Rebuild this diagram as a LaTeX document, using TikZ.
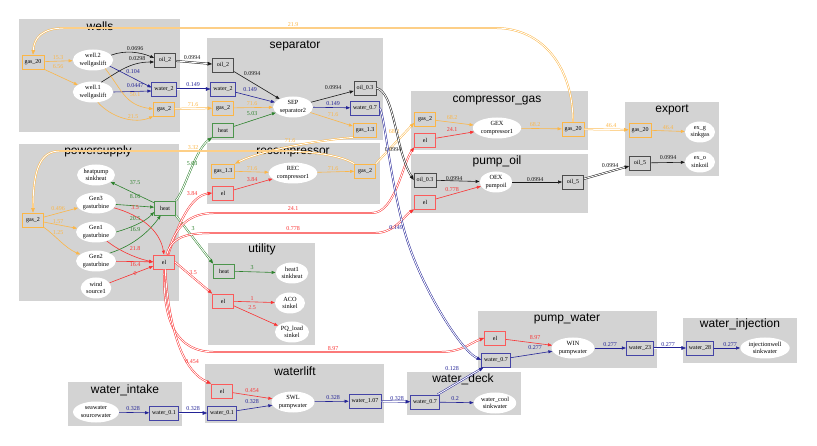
\documentclass[tikz,border=0pt]{standalone}
\usepackage{fontspec}
\setmainfont{Liberation Serif}
\setsansfont{Liberation Sans}
\usetikzlibrary{arrows.meta,shapes.geometric}
\definecolor{clgray}{RGB}{211,211,211}
\definecolor{orC}{RGB}{252,182,70}
\definecolor{rdC}{RGB}{250,50,50}
\definecolor{gnC}{RGB}{45,130,45}
\definecolor{blC}{RGB}{35,35,150}
\definecolor{bkC}{RGB}{25,25,25}
\tikzset{
  clbox/.style={fill=clgray,draw=none},
  ttl/.style={font=\sffamily\fontsize{12}{12}\selectfont,inner sep=0pt,anchor=base},
  bx/.style={draw,rectangle,minimum width=21pt,minimum height=14pt,inner xsep=2.5pt,inner ysep=1pt,font=\fontsize{6}{7}\selectfont,line width=0.8pt},
  obx/.style={bx,draw=orC},
  rbx/.style={bx,draw=rdC!80},
  gbx/.style={bx,draw=gnC!85},
  bbx/.style={bx,draw=blC!85},
  kbx/.style={bx,draw=black!70},
  ell/.style={ellipse,fill=white,draw=none,minimum width=30pt,minimum height=21pt,inner xsep=1pt,inner ysep=0.5pt,align=center,font=\fontsize{6.3}{7.5}\selectfont},
  ed/.style={-{Triangle[length=4pt,width=3pt]},line width=0.6pt},
  dbl/.style={-{Triangle[length=4.5pt,width=3.6pt]},line width=0.5pt,double=white,double distance=0.9pt},
  lb/.style={font=\fontsize{6}{7}\selectfont,inner sep=0pt},
}
\newcommand\elab[4]{\node[lb,text=#1] (#2) at (#3) {#4};}
\begin{document}
\begin{tikzpicture}[x=1pt,y=1pt]
\useasboundingbox (0,0) rectangle (817,-446);
% clusters
\fill[clbox] (19,-19) rectangle (180,-132);
\fill[clbox] (207,-38) rectangle (383,-140);
\fill[clbox] (19,-144) rectangle (179,-301);
\fill[clbox] (207,-143) rectangle (380,-204);
\fill[clbox] (208,-243) rectangle (315,-345);
\fill[clbox] (411,-91) rectangle (588,-150);
\fill[clbox] (411,-154) rectangle (588,-213);
\fill[clbox] (625,-102) rectangle (719,-176);
\fill[clbox] (478,-311) rectangle (657,-368);
\fill[clbox] (683,-318) rectangle (797,-363);
\fill[clbox] (407,-372) rectangle (521,-415);
\fill[clbox] (68,-382) rectangle (182,-426);
\fill[clbox] (205,-364) rectangle (384,-423);
% titles
\node[ttl] (tw) at (100,-30.5) {wells};
\node[ttl] (ts) at (295,-49) {separator};
\node[ttl] (tp) at (98,-155) {powersupply};
\node[ttl] (tr) at (293,-155) {recompressor};
\node[ttl] (tu) at (262,-253) {utility};
\node[ttl] (tc) at (497,-102.5) {compressor\_gas};
\node[ttl] (tpo) at (497,-164.5) {pump\_oil};
\node[ttl] (te) at (672,-113) {export};
\node[ttl] (tpw) at (567,-322) {pump\_water};
\node[ttl] (twi) at (740,-328) {water\_injection};
\node[ttl] (twd) at (463,-383) {water\_deck};
\node[ttl] (twin) at (125,-393) {water\_intake};
\node[ttl] (twl) at (295,-376) {waterlift};
% wells
\node[obx] (wG20) at (33,-62) {gas\_20};
\node[ell] (wW2) at (93,-60) {well.2\\wellgaslift};
\node[ell] (wW1) at (93,-92) {well.1\\wellgaslift};
\node[kbx] (wO2) at (165,-60) {oil\_2};
\node[bbx] (wWa2) at (164,-89) {water\_2};
\node[obx] (wG2) at (164,-109) {gas\_2};
% separator
\node[kbx] (sO2) at (223,-65) {oil\_2};
\node[bbx] (sWa2) at (223,-89) {water\_2};
\node[obx] (sG2) at (223,-108) {gas\_2};
\node[gbx] (sHeat) at (223,-130) {heat};
\node[ell] (sSEP) at (293,-107) {SEP\\separator2};
\node[kbx] (sO03) at (365,-88) {oil\_0.3};
\node[bbx] (sWa07) at (365,-108) {water\_0.7};
\node[obx] (sG13) at (365,-130) {gas\_1.3};
% powersupply
\node[obx] (pG2) at (33,-220) {gas\_2};
\node[ell] (pHP) at (96,-175) {heatpump\\sinkheat};
\node[ell] (pGen3) at (96,-203) {Gen3\\gasturbine};
\node[ell] (pGen1) at (96,-232) {Gen1\\gasturbine};
\node[ell] (pGen2) at (96,-261) {Gen2\\gasturbine};
\node[ell] (pWind) at (96,-288) {wind\\source1};
\node[gbx] (pHeat) at (165,-208) {heat};
\node[rbx] (pEl) at (164,-262) {el};
% recompressor
\node[obx] (rG13) at (223,-171) {gas\_1.3};
\node[rbx] (rEl) at (223,-193) {el};
\node[ell] (rREC) at (293,-173) {REC\\compressor1};
\node[obx] (rG2) at (365,-171) {gas\_2};
% utility
\node[gbx] (uHeat) at (224,-271) {heat};
\node[rbx] (uEl) at (223,-301) {el};
\node[ell] (uHeat1) at (292,-273) {heat1\\sinkheat};
\node[ell] (uACO) at (290,-303) {ACO\\sinkel};
\node[ell] (uPQ) at (292,-332) {PQ\_load\\sinkel};
% compressor_gas
\node[obx] (cG2) at (425,-119) {gas\_2};
\node[rbx] (cEl) at (425,-140) {el};
\node[ell] (cGEX) at (497,-128) {GEX\\compressor1};
\node[obx] (cG20) at (573,-129) {gas\_20};
% pump_oil
\node[kbx] (oO03) at (425,-180) {oil\_0.3};
\node[rbx] (oEl) at (425,-202) {el};
\node[ell] (oOEX) at (496,-182) {OEX\\pumpoil};
\node[kbx] (oO5) at (573,-182) {oil\_5};
% export
\node[obx] (eG20) at (640,-130) {gas\_20};
\node[ell] (eExg) at (700,-132) {ex\_g\\sinkgas};
\node[kbx] (eO5) at (640,-163) {oil\_5};
\node[ell] (eExo) at (700,-162) {ex\_o\\sinkoil};
% pump_water
\node[rbx] (pwEl) at (495,-338) {el};
\node[bbx] (pwWa07) at (496,-360) {water\_0.7};
\node[ell] (pwWIN) at (573,-348) {WIN\\pumpwater};
\node[bbx] (pwWa23) at (640,-348) {water\_23};
% water_injection
\node[bbx] (wiWa28) at (700,-348) {water\_28};
\node[ell] (wiInj) at (765,-348) {injectionwell\\sinkwater};
% water_intake
\node[ell] (inSea) at (96,-412) {seawater\\sourcewater};
\node[bbx] (inWa01) at (164,-413) {water\_0.1};
% waterlift
\node[rbx] (lEl) at (222,-391) {el};
\node[bbx] (lWa01) at (222,-413) {water\_0.1};
\node[ell] (lSWL) at (293,-402) {SWL\\pumpwater};
\node[bbx] (lWa107) at (365,-401) {water\_1.07};
% water_deck
\node[bbx] (dWa07) at (425,-402) {water\_0.7};
\node[ell] (dCool) at (495,-403) {water\_cool\\sinkwater};

% ---------- edges: wells
\draw[ed,orC] (wG20) -- (wW2);
\draw[ed,orC] (wG20.south east) -- (wW1);
\draw[ed,bkC] (wW2.15) .. controls (125,-50) and (140,-52) .. ([yshift=2pt]wO2.west);
\draw[ed,bkC] (wW1.50) .. controls (118,-72) and (130,-62) .. ([yshift=-2pt]wO2.west);
\draw[ed,blC] (wW2.-20) -- ([yshift=1.5pt]wWa2.west);
\draw[ed,blC] (wW1.east) -- ([yshift=-2pt]wWa2.west);
\draw[ed,orC] (wW2.-35) .. controls (122,-90) and (125,-105) .. (wG2.west);
\draw[ed,orC] (wW1.-65) .. controls (112,-118) and (135,-124) .. (wG2.south west);
\elab{orC}{l1}{58,-58}{15.3}
\elab{orC}{l2}{58,-67}{6.56}
\elab{bkC}{l3}{135,-49}{0.0696}
\elab{bkC}{l4}{137,-59}{0.0298}
\elab{blC}{l5}{133,-72}{0.104}
\elab{blC}{l6}{135,-86}{0.0447}
\elab{orC}{l7}{135,-95}{50.1}
\elab{orC}{l8}{133,-117}{21.5}
% wells -> separator
\draw[dbl,bkC] (wO2) -- (sO2);
\draw[dbl,blC] (wWa2) -- (sWa2);
\draw[dbl,orC] (wG2) -- (sG2);
\elab{bkC}{l9}{192,-58}{0.0994}
\elab{blC}{l10}{193,-85}{0.149}
\elab{orC}{l11}{193,-105}{71.6}
% separator
\draw[ed,bkC] (sO2) -- (sSEP);
\draw[ed,blC] (sWa2) -- (sSEP);
\draw[ed,orC] (sG2) -- (sSEP);
\draw[ed,gnC] (sHeat) -- (sSEP);
\draw[ed,bkC] (sSEP) -- (sO03);
\draw[ed,blC] (sSEP) -- (sWa07);
\draw[ed,orC] (sSEP) -- (sG13);
\elab{bkC}{l12}{252,-74}{0.0994}
\elab{blC}{l13}{250,-90}{0.149}
\elab{orC}{l14}{252,-104}{71.6}
\elab{gnC}{l15}{252,-114}{5.03}
\elab{bkC}{l16}{333,-88}{0.0994}
\elab{blC}{l17}{333,-104}{0.149}
\elab{orC}{l18}{333,-115}{71.6}
% powersupply
\draw[ed,orC] (pG2) -- (pGen3);
\draw[ed,orC] (pG2) -- (pGen1);
\draw[ed,orC] (pG2.south east) .. controls (55,-235) and (65,-248) .. (pGen2);
\draw[ed,gnC] (pHeat) -- (pHP);
\draw[ed,gnC] (pGen3) -- (pHeat);
\draw[ed,gnC] (pGen1.east) .. controls (130,-228) and (145,-222) .. (pHeat.-160);
\draw[ed,gnC] (pGen2.30) .. controls (135,-245) and (150,-230) .. (pHeat.-120);
\draw[ed,rdC] (pGen3.-15) .. controls (140,-215) and (160,-230) .. (pEl.north);
\draw[ed,rdC] (pGen1.-40) .. controls (118,-250) and (135,-258) .. (pEl.west);
\draw[ed,rdC] (pGen2) -- (pEl);
\draw[ed,rdC] (pWind) -- (pEl);
\elab{orC}{l19}{58,-209}{0.496}
\elab{orC}{l20}{58,-222}{1.57}
\elab{orC}{l21}{58,-233}{1.25}
\elab{gnC}{l22}{135,-183}{37.5}
\elab{gnC}{l23}{135,-197}{8.16}
\elab{rdC}{l24}{135,-208}{3.5}
\elab{gnC}{l25}{135,-219}{20.5}
\elab{gnC}{l26}{135,-230}{16.9}
\elab{rdC}{l27}{135,-249}{21.8}
\elab{rdC}{l28}{135,-265}{16.4}
\elab{rdC}{l29}{135,-274}{0}
% powersupply outgoing
\draw[dbl,gnC] (pHeat.north east) .. controls (185,-190) and (195,-150) .. (sHeat.south west);
\draw[dbl,gnC] (pHeat.south east) -- (uHeat.north west);
\draw[dbl,rdC] (pEl.60) .. controls (178,-225) and (190,-196) .. (rEl.west);
\draw[dbl,rdC] (pEl.65) .. controls (175,-225) and (190,-213) .. (215,-213) -- (372,-213) .. controls (395,-213) and (402,-165) .. (cEl.south west);
\draw[dbl,rdC] (pEl.70) .. controls (172,-235) and (190,-233) .. (215,-233) -- (375,-233) .. controls (395,-233) and (405,-215) .. (oEl.south west);
\draw[dbl,rdC] (pEl.east) -- (uEl.north west);
\draw[dbl,rdC] (pEl.south) .. controls (163,-320) and (175,-352) .. (215,-352) -- (440,-352) .. controls (462,-352) and (470,-343) .. (pwEl.west);
\draw[dbl,rdC] (pEl.-80) .. controls (168,-320) and (180,-370) .. (lEl.north west);
\elab{gnC}{l30}{192,-164}{5.03}
\elab{gnC}{l31}{193,-229}{3}
\elab{rdC}{l32}{192,-194}{3.84}
\elab{rdC}{l33}{293,-209}{24.1}
\elab{rdC}{l34}{293,-229}{0.778}
\elab{rdC}{l35}{193,-273}{3.5}
\elab{rdC}{l36}{333,-349}{8.97}
\elab{rdC}{l37}{192,-362}{0.454}
% gas loops
\draw[dbl,orC] (cG20.north) .. controls (573,-70) and (545,-28) .. (495,-28) -- (65,-28) .. controls (42,-28) and (34,-38) .. (wG20.north);
\elab{orC}{l38}{293,-25}{21.9}
\draw[dbl,orC] (sG13.south west) .. controls (320,-140) and (262,-150) .. (rG13.north east);
\elab{orC}{l39}{290,-141}{71.6}
\draw[dbl,orC] (rG2.north west) .. controls (340,-155) and (310,-151) .. (280,-151) -- (60,-151) .. controls (40,-151) and (33,-170) .. (pG2.north);
\elab{orC}{l40}{193,-148}{3.32}
\draw[dbl,orC] (rG2.north east) -- (cG2.200);
\elab{orC}{l41}{394,-132}{68.2}
% recompressor
\draw[ed,orC] (rG13) -- (rREC);
\draw[ed,rdC] (rEl) -- (rREC);
\draw[ed,orC] (rREC) -- (rG2);
\elab{orC}{l42}{252,-169}{71.6}
\elab{rdC}{l43}{252,-180}{3.84}
\elab{orC}{l44}{333,-169}{71.6}
% utility
\draw[ed,gnC] (uHeat) -- (uHeat1);
\draw[ed,rdC] (uEl) -- (uACO);
\draw[ed,rdC] (uEl) -- (uPQ);
\elab{gnC}{l45}{252,-268}{3}
\elab{rdC}{l46}{252,-299}{1}
\elab{rdC}{l47}{252,-308}{2.5}
% compressor_gas
\draw[ed,orC] (cG2) -- (cGEX);
\draw[ed,rdC] (cEl) -- (cGEX);
\draw[ed,orC] (cGEX) -- (cG20);
\elab{orC}{l48}{452,-118}{68.2}
\elab{rdC}{l49}{452,-130}{24.1}
\elab{orC}{l50}{535,-125}{68.2}
% pump_oil
\draw[dbl,bkC] (sO03.east) .. controls (395,-92) and (395,-150) .. (oO03.west);
\elab{bkC}{l51}{393,-150}{0.0994}
\draw[ed,bkC] (oO03) -- (oOEX);
\draw[ed,rdC] (oEl) -- (oOEX);
\draw[ed,bkC] (oOEX) -- (oO5);
\elab{bkC}{l52}{454,-179}{0.0994}
\elab{rdC}{l53}{452,-190}{0.778}
\elab{bkC}{l54}{535,-180}{0.0994}
% export
\draw[dbl,orC] (cG20) -- (eG20);
\draw[ed,orC] (eG20) -- (eExg);
\draw[dbl,bkC] (oO5) -- (eO5);
\draw[ed,bkC] (eO5) -- (eExo);
\elab{orC}{l55}{611,-126}{46.4}
\elab{orC}{l56}{668,-128}{46.4}
\elab{bkC}{l57}{610,-166}{0.0994}
\elab{bkC}{l58}{668,-158}{0.0994}
% water
\draw[dbl,blC] (sWa07.east) .. controls (385,-118) and (390,-180) .. (405,-233) .. controls (420,-285) and (460,-350) .. (pwWa07.west);
\elab{blC}{l59}{396,-228}{0.149}
\draw[ed,rdC] (pwEl) -- (pwWIN);
\draw[ed,blC] (pwWa07) -- (pwWIN);
\draw[ed,blC] (pwWIN) -- (pwWa23);
\draw[dbl,blC] (pwWa23) -- (wiWa28);
\draw[ed,blC] (wiWa28) -- (wiInj);
\elab{rdC}{l60}{535,-338}{8.97}
\elab{blC}{l61}{535,-348}{0.277}
\elab{blC}{l62}{610,-345}{0.277}
\elab{blC}{l63}{668,-345}{0.277}
\elab{blC}{l64}{730,-345}{0.277}
\draw[dbl,blC] (dWa07) -- (pwWa07);
\draw[ed,blC] (dWa07) -- (dCool);
\draw[dbl,blC] (lWa107) -- (dWa07);
\elab{blC}{l65}{452,-369}{0.128}
\elab{blC}{l66}{455,-399}{0.2}
\elab{blC}{l67}{397,-399}{0.328}
\draw[ed,blC] (inSea) -- (inWa01);
\draw[dbl,blC] (inWa01) -- (lWa01);
\draw[ed,rdC] (lEl) -- (lSWL);
\draw[ed,blC] (lWa01) -- (lSWL);
\draw[ed,blC] (lSWL) -- (lWa107);
\elab{blC}{l68}{133,-409}{0.328}
\elab{blC}{l69}{193,-409}{0.328}
\elab{rdC}{l70}{252,-391}{0.454}
\elab{blC}{l71}{252,-402}{0.328}
\elab{blC}{l72}{333,-398}{0.328}
\end{tikzpicture}
\end{document}
